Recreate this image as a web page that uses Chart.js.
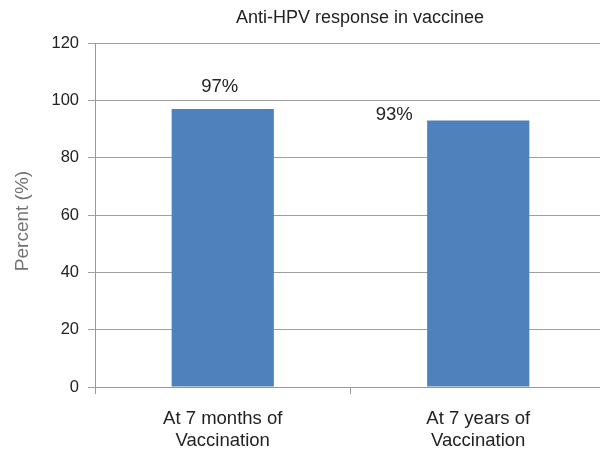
<!DOCTYPE html>
<html><head><meta charset="utf-8">
<script src="https://cdn.jsdelivr.net/npm/chart.js@4"></script>
<style>html,body{margin:0;padding:0;background:#fff;overflow:hidden}#wrap{width:606px;height:453px;position:relative}</style>
</head><body><div id="wrap"><canvas id="c"></canvas></div>
<script>
const categories = [["At 7 months of","Vaccination"],["At 7 years of","Vaccination"]];
const values = [97, 93];
const valueLabels = ["97%", "93%"];
const yTicks = [0,20,40,60,80,100,120];
const chartTitle = "Anti-HPV response in vaccinee";
const yTitle = "Percent (%)";

const FONT = "'Liberation Sans', Arial, sans-serif";

const overlay = {
  id:'overlay',
  afterDraw(chart){
    const ctx = chart.ctx;
    ctx.save();
    ctx.fillStyle = '#222';
    ctx.font = '18px ' + FONT;
    ctx.textAlign = 'center'; ctx.textBaseline = 'middle';
    ctx.fillText(chartTitle, 360, 18);
    // y axis title
    ctx.save();
    ctx.translate(23, 221);
    ctx.rotate(-Math.PI/2);
    ctx.fillStyle = '#737373';
    ctx.font = '19px ' + FONT;
    ctx.fillText(yTitle, 0, 0);
    ctx.restore();
    // data labels
    const meta = chart.getDatasetMeta(0);
    ctx.font = '18.5px ' + FONT;
    ctx.fillStyle = '#222';
    meta.data.forEach((bar, i) => {
      if (i === 0) ctx.fillText(valueLabels[i], bar.x - 3, bar.y - 22);
      else ctx.fillText(valueLabels[i], bar.x - 84, bar.y - 5);
    });
    ctx.restore();
  }
};

new Chart(document.getElementById('c'), {
  type:'bar',
  data:{ labels: categories, datasets:[{ data: values, backgroundColor:'#4F81BD', borderWidth:0,
    categoryPercentage:1.0, barPercentage:0.4 }]},
  options:{
    responsive:true, maintainAspectRatio:false, animation:false,
    layout:{ padding:{ top:43, left:0, right:0, bottom:0 } },
    plugins:{ legend:{display:false}, tooltip:{enabled:false}, title:{display:false} },
    scales:{
      x:{
        grid:{ display:true, drawOnChartArea:false, drawTicks:true, tickLength:7, color:'#999', offset:true },
        border:{ display:true, color:'#999', width:1 },
        ticks:{ color:'#222', font:{ family:FONT, size:18.5, lineHeight:1.2 }, padding:14, maxRotation:0, autoSkip:false },
        afterFit(s){ s.height = 66; }
      },
      y:{
        min:0, max:120,
        afterBuildTicks(s){ s.ticks = yTicks.map(v => ({value:v})); },
        grid:{ color:'#a0a0a0', tickLength:7, lineWidth:1 },
        border:{ display:true, color:'#999', width:1 },
        ticks:{ color:'#222', font:{ family:FONT, size:16.5 }, padding:9 },
        afterFit(s){ s.width = 95; }
      }
    }
  },
  plugins:[overlay]
});
</script></body></html>
